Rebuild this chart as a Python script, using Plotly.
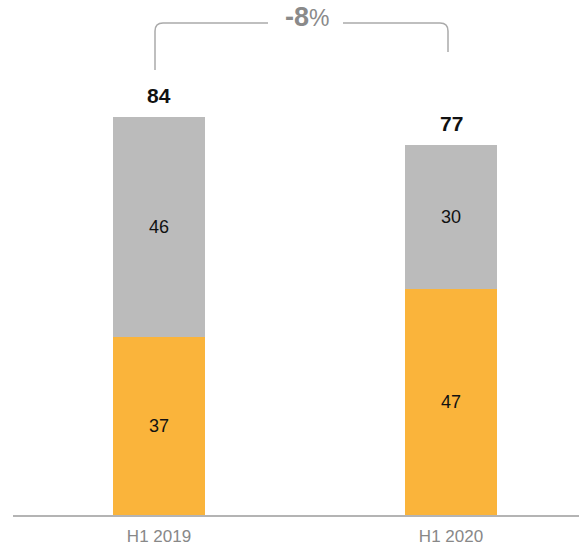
import plotly.graph_objects as go

categories = ["H1 2019", "H1 2020"]
orange_vals = [37, 47]
grey_vals = [46, 30]
totals = [84, 77]
change_label = "-8"

ORANGE = "#FAB43B"
GREY = "#BBBBBB"
W, H = 579, 547
ml, mb, mt, mr = 13, 32, 0, 0
px_per_cat = 292.0
x0 = -(159 - ml) / px_per_cat
x1 = (W - ml - mr) / px_per_cat + x0
px_per_unit = 4.8
y1 = (H - mb - mt) / px_per_unit

xs = list(range(len(categories)))
fig = go.Figure()
fig.add_bar(x=xs, y=orange_vals, marker_color=ORANGE, width=0.312,
            text=[str(v) for v in orange_vals], textposition="inside",
            insidetextanchor="middle",
            textfont=dict(family="Liberation Sans, Arial", size=18, color="#111"),
            marker_line_width=0)
fig.add_bar(x=xs, y=grey_vals, marker_color=GREY, width=0.312,
            text=[str(v) for v in grey_vals], textposition="inside",
            insidetextanchor="middle",
            textfont=dict(family="Liberation Sans, Arial", size=18, color="#111"),
            marker_line_width=0)

for i, t in enumerate(totals):
    fig.add_annotation(x=xs[i], y=orange_vals[i] + grey_vals[i], text=f"<b>{t}</b>",
                       showarrow=False, yanchor="bottom", yshift=8,
                       font=dict(family="Liberation Sans, Arial", size=21, color="#111"))

# bracket (pixel -> paper conversion)
def px(xp):
    return (xp - ml) / (W - ml - mr)
def py(yp):
    return 1 - (yp - mt) / (H - mt - mb)

r = 8
lc = "#AAAAAA"
path_left = (f"M {px(155)},{py(70)} L {px(155)},{py(23 + r)} "
             f"Q {px(155)},{py(23)} {px(155 + r)},{py(23)} L {px(268)},{py(23)}")
path_right = (f"M {px(343)},{py(23)} L {px(448 - r)},{py(23)} "
              f"Q {px(448)},{py(23)} {px(448)},{py(23 + r)} L {px(448)},{py(52)}")
for p in (path_left, path_right):
    fig.add_shape(type="path", path=p, xref="paper", yref="paper",
                  line=dict(color=lc, width=1.5))

fig.add_annotation(x=px(307), y=py(17), xref="paper", yref="paper",
                   text=f"<b>{change_label}</b><span style='font-size:23px'>%</span>",
                   showarrow=False, xanchor="center", yanchor="middle", borderpad=0,
                   font=dict(family="Liberation Sans, Arial", size=27, color="#8A8A8A"))

fig.update_layout(
    width=W, height=H, barmode="stack", showlegend=False,
    plot_bgcolor="white", paper_bgcolor="white",
    margin=dict(l=ml, r=mr, t=mt, b=mb, autoexpand=False),
    xaxis=dict(range=[x0, x1], tickvals=xs, ticktext=categories, showgrid=False,
               zeroline=False, showline=True, linecolor="#B4B4B4", linewidth=2,
               ticks="", ticklabelstandoff=5,
               tickfont=dict(family="Liberation Sans, Arial", size=17, color="#888888")),
    yaxis=dict(range=[0, y1], visible=False, showgrid=False, zeroline=False),
    uniformtext=dict(minsize=10, mode="show"),
)
fig.write_html("out.html", config={"displayModeBar": False},
               post_script="document.body.style.margin='0';document.body.style.padding='0';")
